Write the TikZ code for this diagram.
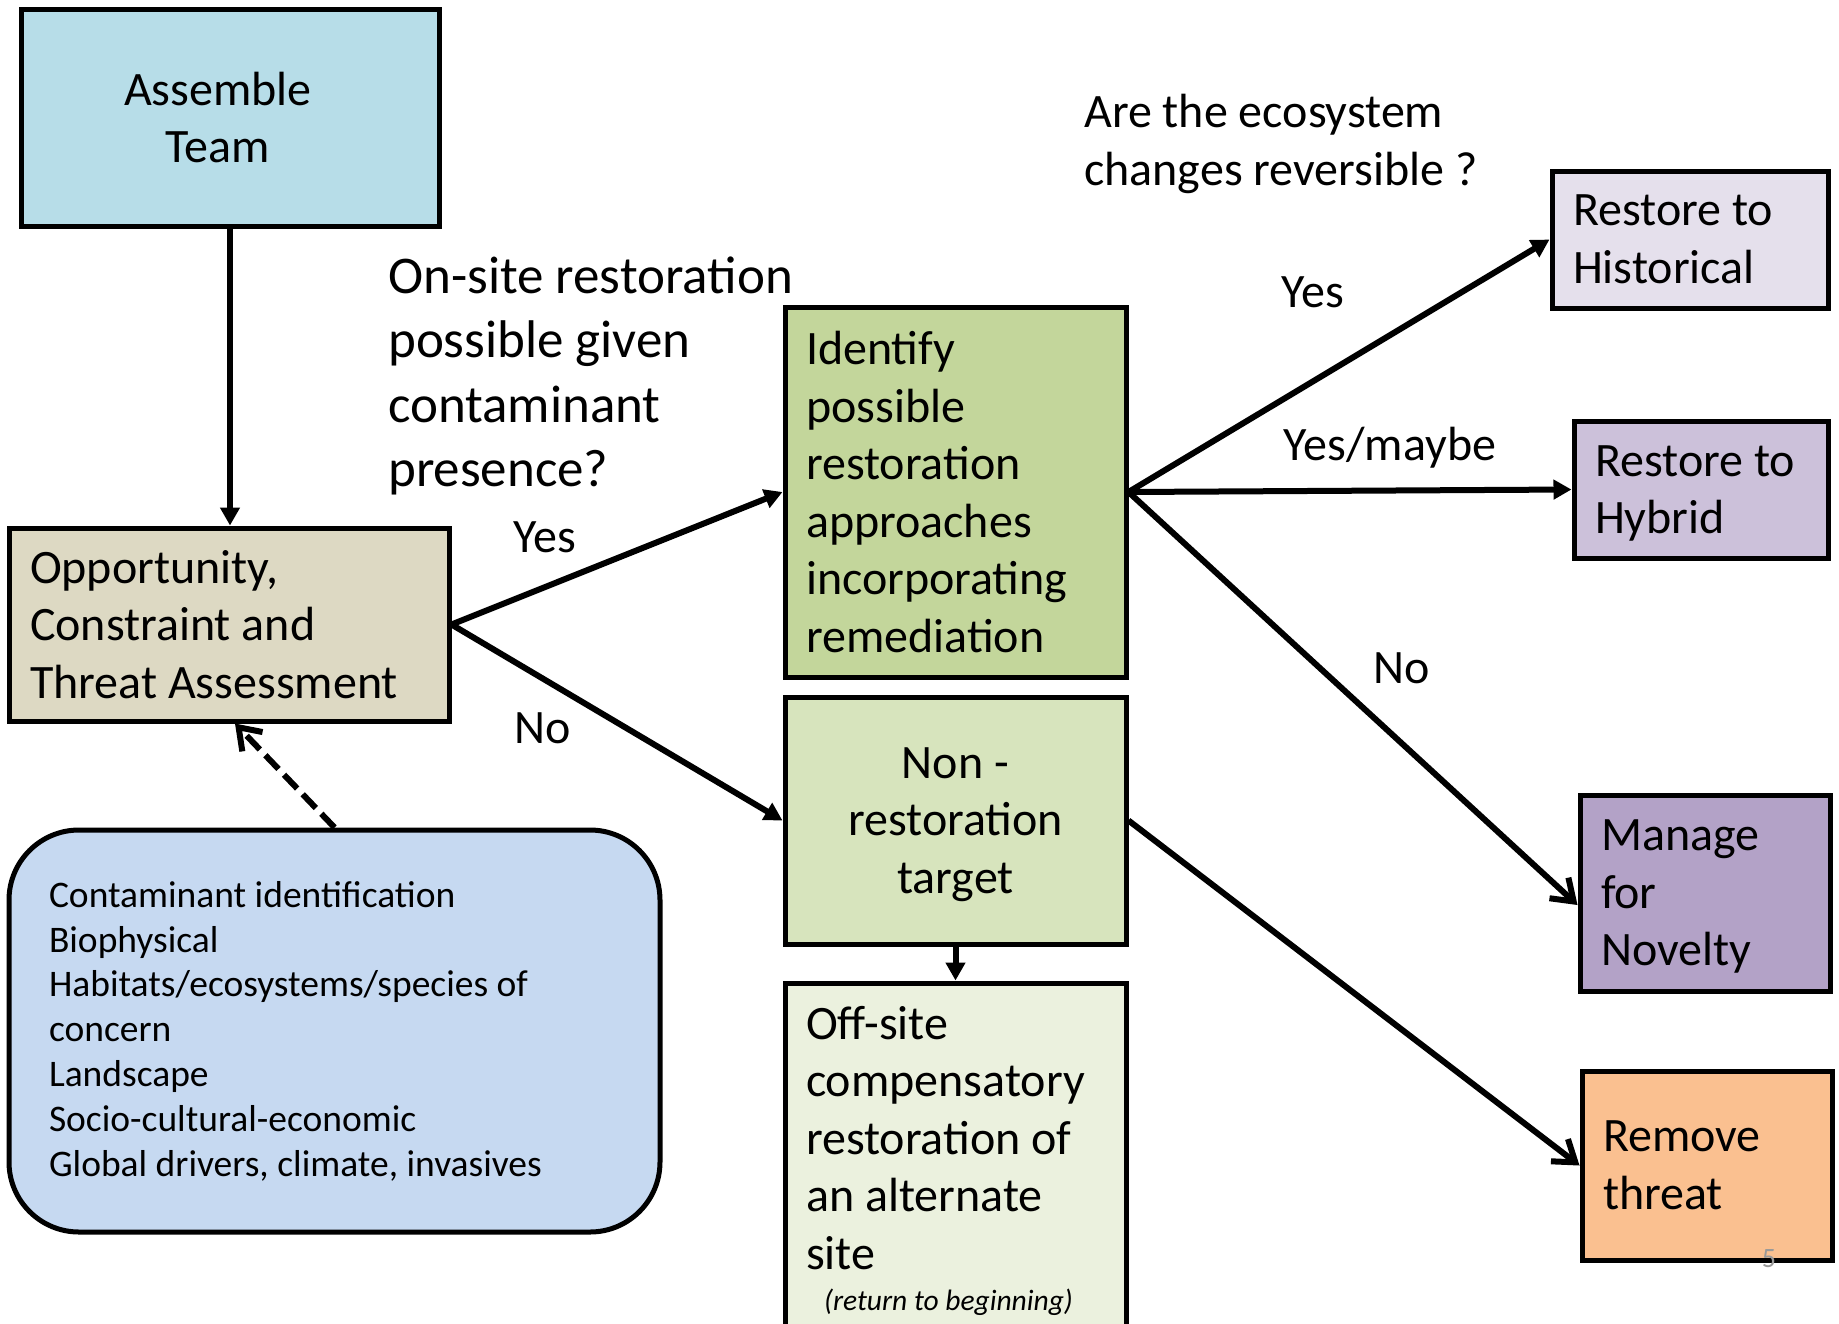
\documentclass[tikz,border=0pt]{standalone}
\usepackage{fontspec}
\setmainfont{Carlito}
\usetikzlibrary{arrows.meta}

\definecolor{teamblue}{HTML}{B7DDE8}
\definecolor{assesstan}{HTML}{DDD9C3}
\definecolor{greenmid}{HTML}{C3D69B}
\definecolor{greenlight}{HTML}{D7E4BD}
\definecolor{greenpale}{HTML}{EBF1DE}
\definecolor{purplepale}{HTML}{E5E0EC}
\definecolor{purplelight}{HTML}{CCC1DA}
\definecolor{purplemid}{HTML}{B3A2C7}
\definecolor{threatorange}{HTML}{FAC090}
\definecolor{infoblue}{HTML}{C6D9F1}
\newcommand{\boxfont}{\fontsize{48}{57.5}\selectfont}
\newcommand{\qfont}{\fontsize{53}{64.5}\selectfont}
\newcommand{\infofont}{\fontsize{37.5}{44.8}\selectfont}
\newcommand{\nodepth}[1]{\raisebox{0pt}[\height][0pt]{#1}}

\begin{document}
\begin{tikzpicture}[x=1pt,y=-1pt,
    box node/.style={draw,line width=5pt,inner xsep=21pt,inner ysep=0pt,font=\boxfont,align=flush left},
    label node/.style={font=\boxfont,inner sep=0pt},
    tri arrow/.style={line width=6pt,-{Triangle[length=18pt,width=19pt]}},
    open arrow/.style={line width=6pt,-{Straight Barb[length=20pt,width=28pt]}}]
  \useasboundingbox (0,0) rectangle (1839,1323);
  \clip (0,0) rectangle (1839,1323);

  % boxes
  \node[box node,fill=teamblue,align=flush center,minimum width=418pt,minimum height=217pt,text width=376pt] (team) at (230,117.5) {Assemble\rule{24pt}{0pt}\\Team\rule{24pt}{0pt}};
  \node[box node,fill=assesstan,minimum width=440pt,minimum height=193pt,text width=398pt] (assess) at (229,624.5) {Opportunity,\\Constraint and\\Threat Assessment};
  \node[box node,fill=greenmid,minimum width=341pt,minimum height=370pt,text width=299pt] (identify) at (955.5,492) {Identify\\possible\\restoration\\approaches\\incorporating\\remediation};
  \node[box node,fill=greenlight,align=flush center,minimum width=341pt,minimum height=247pt,text width=299pt] (nonrest) at (955.5,820.5) {Non -\\restoration\\\nodepth{target}};
  \node[box node,fill=greenpale,minimum width=341pt,minimum height=356pt,text width=299pt] (offsite) at (955.5,1161) {Off-site\\compensatory\\restoration of\\an alternate\\site\\[-16pt]\makebox[299pt]{\fontsize{29.5}{32}\selectfont\itshape(return to beginning)\rule{14pt}{0pt}}};
  \node[box node,fill=purplepale,minimum width=276pt,minimum height=137pt,text width=234pt] (historical) at (1690,239.5) {Restore to\\Historical};
  \node[box node,fill=purplelight,minimum width=254pt,minimum height=137pt,text width=212pt] (hybrid) at (1701,489.5) {Restore to\\\nodepth{Hybrid}};
  \node[box node,fill=purplemid,minimum width=250pt,minimum height=196pt,text width=208pt] (novelty) at (1705,893) {Manage\\for\\\nodepth{Novelty}};
  \node[box node,fill=threatorange,minimum width=250pt,minimum height=189pt,text width=208pt] (threat) at (1707,1165.5) {Remove\\threat};
  \node[draw,line width=5pt,fill=infoblue,rounded corners=70pt,minimum width=651pt,minimum height=402pt,inner xsep=40pt,text width=571pt,align=flush left,font=\infofont] (info) at (334.5,1031) {Contaminant identification\\Biophysical\\Habitats/ecosystems/species of\\concern\\Landscape\\Socio-cultural-economic\\Global drivers, climate, invasives};

  % questions and labels
  \node[label node,font=\qfont,align=left,anchor=west] (onsite) at (388,376) {On-site restoration\\possible given\\contaminant\\presence?};
  \node[label node,align=left,anchor=west,font=\fontsize{48}{58.6}\selectfont] (reversible) at (1084,144) {Are the ecosystem\\changes reversible ?};
  \node[label node] (yesa) at (545,537) {Yes};
  \node[label node] (noa) at (543,728) {No};
  \node[label node] (yesb) at (1313,292) {Yes};
  \node[label node] (maybe) at (1390,448) {Yes/maybe};
  \node[label node] (nob) at (1402,668) {No};
  \node[label node,font=\fontsize{28}{30}\selectfont,text=gray!80] (pagenum) at (1769,1259) {5};

  % connectors
  \draw[tri arrow] (team.south) -- (team.south |- assess.north);
  \draw[tri arrow] (assess.east) -- (identify.west);
  \draw[tri arrow] (assess.east) -- (nonrest.west);
  \draw[tri arrow] (nonrest.south) -- (offsite.north);
  \draw[tri arrow] (identify.east) -- (historical.west);
  \draw[tri arrow] (identify.east) -- (hybrid.west);
  \draw[open arrow] (identify.east) -- ([yshift=-12pt]novelty.west);
  \draw[open arrow] (nonrest.east) -- (threat.west);
  \draw[open arrow,dash pattern=on 19pt off 8pt] (info.north) -- ([xshift=6pt]assess.south);
\end{tikzpicture}
\end{document}
